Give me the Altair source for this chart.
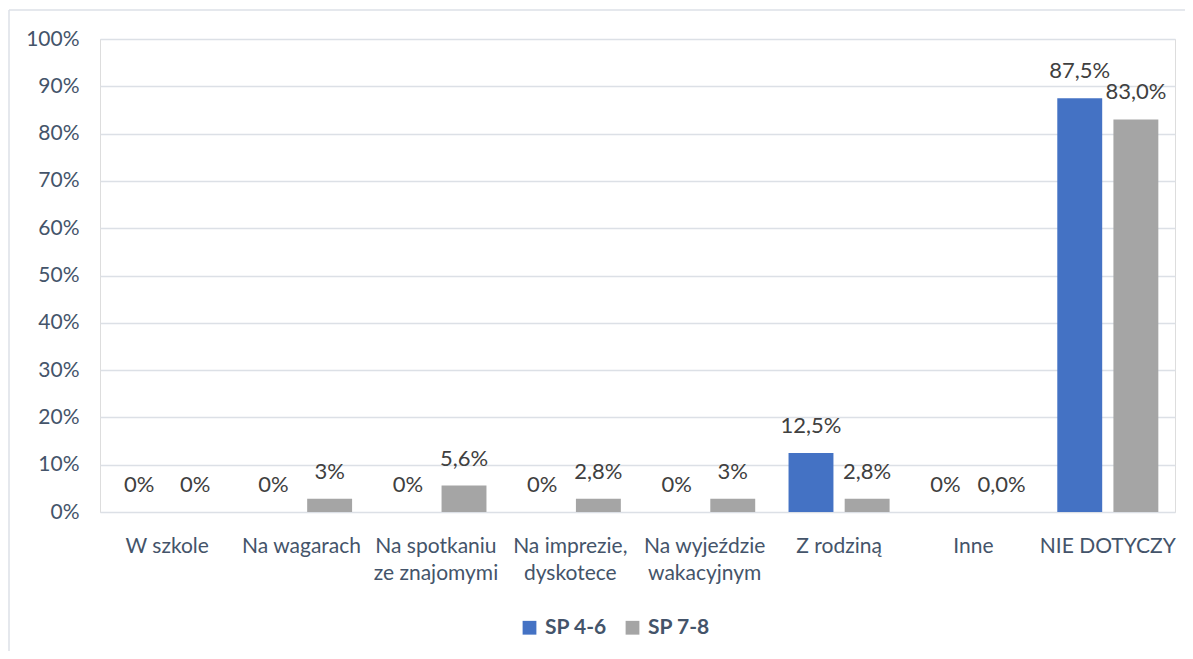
import altair as alt
import pandas as pd

categories = ["W szkole", "Na wagarach", "Na spotkaniu\nze znajomymi", "Na imprezie,\ndyskotece",
              "Na wyjeździe\nwakacyjnym", "Z rodziną", "Inne", "NIE DOTYCZY"]
series = ["SP 4-6", "SP 7-8"]
sp46_values = [0, 0, 0, 0, 0, 12.5, 0, 87.5]
sp78_values = [0, 2.8, 5.6, 2.8, 2.8, 2.8, 0, 83.0]
sp46_labels = ["0%", "0%", "0%", "0%", "0%", "12,5%", "0%", "87,5%"]
sp78_labels = ["0%", "3%", "5,6%", "2,8%", "3%", "2,8%", "0,0%", "83,0%"]
y_ticks = [0, 10, 20, 30, 40, 50, 60, 70, 80, 90, 100]
colors = ["#4472C4", "#A5A5A5"]

rows = []
for i, c in enumerate(categories):
    rows.append({"cat": c, "series": series[0], "value": sp46_values[i], "label": sp46_labels[i]})
    rows.append({"cat": c, "series": series[1], "value": sp78_values[i], "label": sp78_labels[i]})
df = pd.DataFrame(rows)

FONT = "Lato"
AXIS_COLOR = "#44546A"

x_enc = alt.X("cat:N", sort=categories, title=None,
              scale=alt.Scale(paddingInner=0.248, paddingOuter=0.124),
              axis=alt.Axis(labelAngle=0, domain=False, ticks=False, labelPadding=34,
                            labelFontSize=21, labelColor=AXIS_COLOR, labelFont=FONT,
                            labelBaseline="middle",
                            labelLineHeight=27, labelExpr="split(datum.label, '\\n')"))
y_enc = alt.Y("value:Q", title=None,
              scale=alt.Scale(domain=[0, 100], nice=False),
              axis=alt.Axis(values=y_ticks, labelExpr="datum.value + '%'", domain=False, ticks=False,
                            labelPadding=21, labelFontSize=21, labelColor=AXIS_COLOR, labelFont=FONT,
                            grid=True, gridColor="#DCE0E6", gridWidth=1.3))
xoff = alt.XOffset("series:N", sort=series, scale=alt.Scale(paddingInner=0.2, paddingOuter=0))

bars = alt.Chart(df).mark_bar().encode(
    x=x_enc, y=y_enc, xOffset=xoff,
    color=alt.Color("series:N", sort=series, scale=alt.Scale(domain=series, range=colors),
                    legend=alt.Legend(title=None, orient="none", legendX=419, legendY=578,
                                      direction="horizontal", symbolType="square", symbolSize=190,
                                      symbolStrokeWidth=0, labelFontSize=21, labelFontWeight="bold",
                                      labelColor=AXIS_COLOR, labelFont=FONT, columnPadding=15,
                                      labelOffset=5))
)

text = alt.Chart(df).mark_text(dy=-27, fontSize=22, color="#404040", font=FONT).encode(
    x=alt.X("cat:N", sort=categories), y="value:Q", xOffset=xoff, text="label:N"
)

border = alt.Chart(pd.DataFrame({"k": [0]})).mark_rule(color="#DDE1E7", strokeWidth=1.5).encode(
    x=alt.value(-91), x2=alt.value(1090), y=alt.value(-29)
)
border_left = alt.Chart(pd.DataFrame({"k": [0]})).mark_rule(color="#DDE1E7", strokeWidth=1.5).encode(
    x=alt.value(-91), y=alt.value(-29), y2=alt.value(615)
)

chart = alt.layer(bars, text, border, border_left).properties(
    width=1075, height=473,
    autosize=alt.AutoSizeParams(type="none"),
    padding={"left": 92, "top": 31, "right": 10, "bottom": 139},
).configure_view(stroke=None).configure(background="white")

chart.save("out.html", embed_options={"renderer": "svg", "actions": False})
